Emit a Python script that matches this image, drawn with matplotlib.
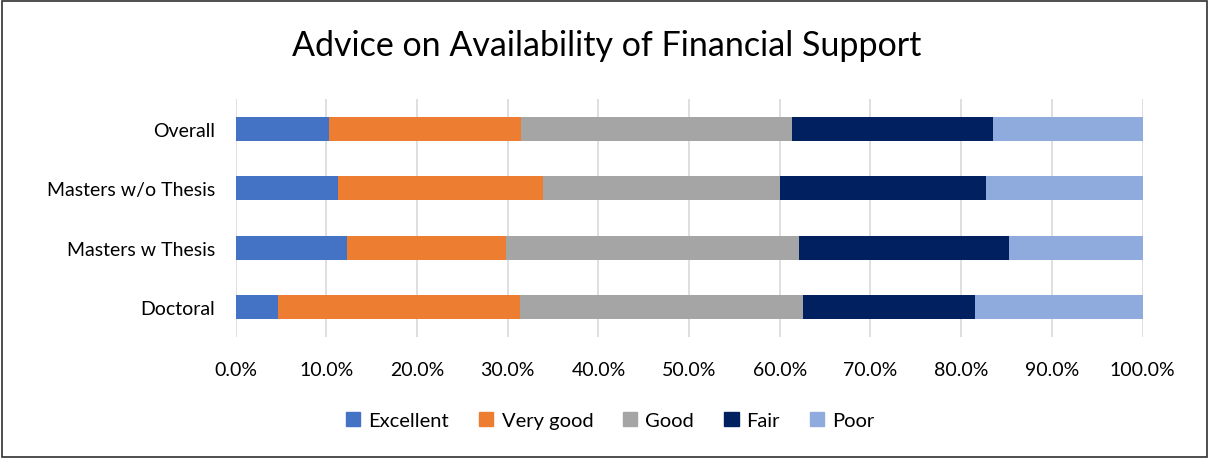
import matplotlib
matplotlib.use("Agg")
import matplotlib.pyplot as plt
import matplotlib.patches as mpatches
from matplotlib.ticker import PercentFormatter

plt.rcParams['font.family'] = ['Lato', 'DejaVu Sans']

# categories bottom to top
programs = ["Doctoral", "Masters w Thesis", "Masters w/o Thesis", "Overall"]
ratings = ["Excellent", "Very good", "Good", "Fair", "Poor"]

# percent per rating, ordered like programs
excellent = [4.7, 12.3, 11.3, 10.3]
very_good = [26.6, 17.5, 22.6, 21.2]
good = [31.3, 32.3, 26.1, 29.9]
fair = [18.9, 23.2, 22.7, 22.1]
poor = [18.7, 14.7, 17.3, 16.5]

colors = ["#4472C4", "#ED7D31", "#A5A5A5", "#002060", "#8FAADC"]

fig = plt.figure(figsize=(12.09, 4.60), dpi=100)
ax = fig.add_axes([0.195, 0.265, 0.75, 0.518])

left = [0.0] * len(programs)
for name, vals, col in zip(ratings, [excellent, very_good, good, fair, poor], colors):
    ax.barh(programs, vals, left=left, height=0.4, color=col, label=name, zorder=3)
    left = [l + v for l, v in zip(left, vals)]

ax.set_xlim(0, 100)
ax.set_ylim(-0.5, 3.5)
ax.set_xticks(range(0, 101, 10))
ax.xaxis.set_major_formatter(PercentFormatter(decimals=1))
ax.grid(axis="x", color="#D9D9D9", linewidth=1.2, zorder=0)
for s in ax.spines.values():
    s.set_visible(False)
ax.tick_params(axis="both", length=0, labelsize=14, colors="#000000")
ax.tick_params(axis="y", pad=15)
ax.tick_params(axis="x", pad=17)

fig.suptitle("Advice on Availability of Financial Support", fontsize=24.5, y=0.935, x=0.502)

handles = [mpatches.Patch(color=c, label=r) for r, c in zip(ratings, colors)]
fig.legend(handles=handles, loc="center", bbox_to_anchor=(0.505, 0.083), ncol=5,
           frameon=False, fontsize=14.5, handlelength=0.7, handleheight=0.7,
           handletextpad=0.4, columnspacing=1.5)

fig.patches.append(mpatches.Rectangle((0.002, 0.004), 0.996, 0.992, transform=fig.transFigure,
                                      fill=False, edgecolor="#303030", linewidth=1.2))

fig.savefig("out.png", dpi=100, facecolor="white")
